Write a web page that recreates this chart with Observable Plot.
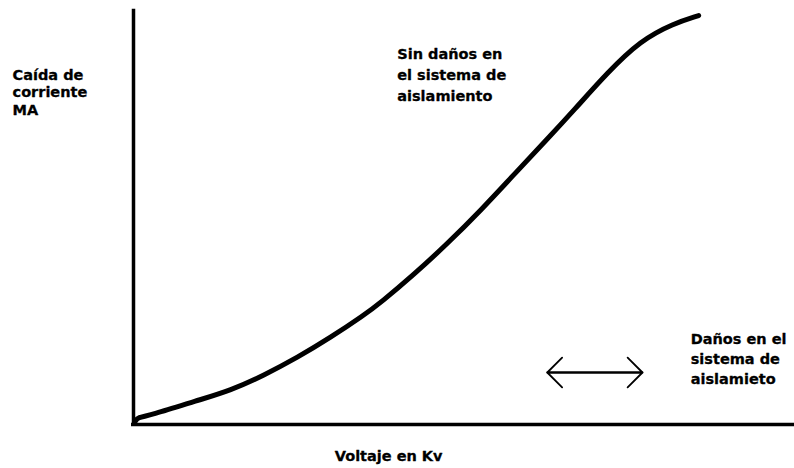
<!DOCTYPE html>
<html>
<head>
<meta charset="utf-8">
<script src="https://cdn.jsdelivr.net/npm/d3@7"></script>
<script src="https://cdn.jsdelivr.net/npm/@observablehq/plot@0.6"></script>
<style>
  html, body { margin: 0; padding: 0; background: #fff; }
  #chart svg { display: block; }
</style>
</head>
<body>
<div id="chart"></div>
<script>
// Curve (arbitrary units, 0–100 on both axes)
const voltage = [0.3, 0.6, 2.6, 9.7, 14.7, 19.7, 24.8, 29.8, 34.8, 37.4, 42.4, 47.5, 52.5, 57.5, 62.6, 66.6, 71.7, 76.7, 81.7, 85.5];
const current = [0.8, 1.7, 2.2, 5.8, 8.2, 11.8, 16.1, 20.9, 26.2, 29.3, 36.0, 43.5, 51.4, 60.0, 68.6, 75.5, 84.6, 92.3, 96.4, 98.3];

// Annotations
const noteTexts = ["Caída de\ncorriente\nMA", "Sin daños en\nel sistema de\naislamiento", "Daños en el\nsistema de\naislamieto"];
const noteX = [-18.3, 39.9, 84.3];
const noteY = [85.9, 91.4, 22.6];
const noteLineHeight = [1.22, 1.45, 1.36];

const axisLabel = "Voltaje en Kv";
const axisLabelX = 38.6;
const axisLabelY = -6.3;

// Double arrow (range of damage)
const arrowFrom = [77.0, 62.6];
const arrowTo = [62.6, 77.0];
const arrowY = 12.5;

const curve = voltage.map((v, i) => ({v, c: current[i]}));
const notes = noteTexts.map((t, i) => ({t, x: noteX[i], y: noteY[i], lh: noteLineHeight[i]}));
const arrows = arrowFrom.map((f, i) => ({x1: f, x2: arrowTo[i], y: arrowY}));

const font = "DejaVu Sans, sans-serif";

const plot = Plot.plot({
  width: 794,
  height: 468,
  marginLeft: 133,
  marginRight: 0,
  marginTop: 8,
  marginBottom: 44,
  style: {background: "#fff", overflow: "visible", fontFamily: font},
  x: {domain: [0, 100], axis: null},
  y: {domain: [0, 100], axis: null},
  marks: [
    Plot.ruleX([0], {y1: -0.3, y2: 99.8, stroke: "#000", strokeWidth: 3.5}),
    Plot.ruleY([0], {x1: -0.3, x2: 100, stroke: "#000", strokeWidth: 3.5}),
    Plot.line(curve, {x: "v", y: "c", curve: "basis", stroke: "#000", strokeWidth: 5, strokeLinecap: "round", strokeLinejoin: "round"}),
    Plot.arrow(arrows, {x1: "x1", x2: "x2", y1: "y", y2: "y", stroke: "#000", strokeWidth: 1.8, headLength: 17.5, headAngle: 90}),
    ...notes.map(n => Plot.text([n], {x: "x", y: "y", text: "t", textAnchor: "start", lineAnchor: "top", lineHeight: n.lh, fontSize: 14.5, fontWeight: "bold", fill: "#000", stroke: "#000", strokeWidth: 0.3})),
    Plot.text([axisLabel], {x: axisLabelX, y: axisLabelY, text: d => d, textAnchor: "middle", lineAnchor: "top", fontSize: 14.5, fontWeight: "bold", fill: "#000", stroke: "#000", strokeWidth: 0.3})
  ]
});
document.getElementById("chart").appendChild(plot);
</script>
</body>
</html>
